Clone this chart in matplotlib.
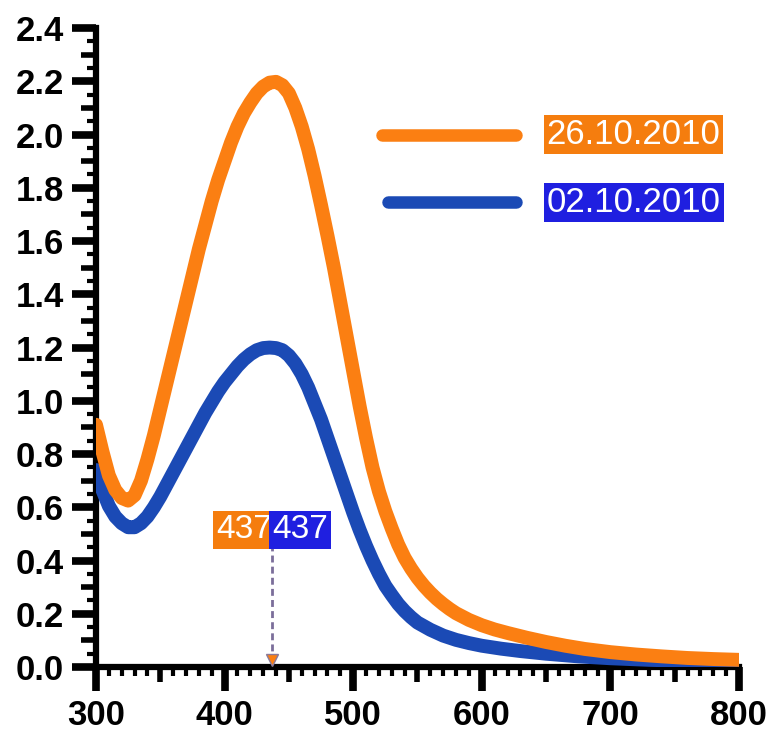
import matplotlib
matplotlib.use("Agg")
import matplotlib.pyplot as plt
from matplotlib.ticker import MultipleLocator, FormatStrFormatter, NullFormatter

plt.rcParams["font.family"] = ["Liberation Sans", "DejaVu Sans"]

# absorbance spectra (wavelength in nm)
wl_oct26 = [300, 305, 310, 315, 320, 325, 330, 335, 340, 345, 350, 355, 360, 365, 370, 375,
            380, 385, 390, 395, 400, 405, 410, 415, 420, 425, 430, 435, 440, 445, 450, 455,
            460, 465, 470, 475, 480, 485, 490, 495, 500, 505, 510, 515, 520, 525, 530, 535,
            540, 545, 550, 555, 560, 565, 570, 575, 580, 590, 600, 610, 620, 635, 650, 665,
            680, 700, 720, 740, 760, 780, 800]
abs_oct26 = [0.91, 0.81, 0.72, 0.665, 0.635, 0.625, 0.645, 0.70, 0.78, 0.87, 0.97, 1.07,
             1.17, 1.27, 1.37, 1.47, 1.57, 1.66, 1.75, 1.83, 1.90, 1.97, 2.03, 2.08, 2.12,
             2.155, 2.18, 2.195, 2.198, 2.185, 2.155, 2.10, 2.03, 1.945, 1.845, 1.735, 1.62,
             1.50, 1.37, 1.24, 1.11, 0.98, 0.86, 0.75, 0.66, 0.585, 0.52, 0.46, 0.41, 0.37,
             0.335, 0.305, 0.279, 0.256, 0.236, 0.218, 0.202, 0.177, 0.157, 0.141, 0.128, 0.11,
             0.094, 0.08, 0.068, 0.056, 0.047, 0.04, 0.034, 0.03, 0.027]

wl_oct02 = [300, 305, 310, 315, 320, 325, 330, 335, 340, 345, 350, 355, 360, 365, 370, 375,
            380, 385, 390, 395, 400, 405, 410, 415, 420, 425, 430, 435, 440, 445, 450, 455,
            460, 465, 470, 475, 480, 485, 490, 495, 500, 505, 510, 515, 520, 525, 530, 535,
            540, 545, 550, 560, 570, 580, 590, 600, 615, 630, 650, 675, 700, 730, 760, 800]
abs_oct02 = [0.74, 0.665, 0.605, 0.565, 0.54, 0.525, 0.525, 0.54, 0.565, 0.60, 0.64, 0.685,
             0.73, 0.775, 0.82, 0.865, 0.91, 0.955, 0.995, 1.035, 1.07, 1.10, 1.13, 1.155,
             1.175, 1.19, 1.198, 1.20, 1.198, 1.19, 1.17, 1.14, 1.10, 1.05, 0.99, 0.93, 0.86,
             0.79, 0.72, 0.65, 0.58, 0.515, 0.455, 0.40, 0.35, 0.305, 0.27, 0.237, 0.21, 0.187,
             0.167, 0.14, 0.118, 0.102, 0.09, 0.08, 0.069, 0.06, 0.05, 0.04, 0.033, 0.027,
             0.023, 0.02]

series_labels = ["26.10.2010", "02.10.2010"]
peak_nm = 437
peak_label_y = 0.515

orange = "#FB7F12"
blue_line = "#1B4AB5"
blue_box = "#1F1FE0"
orange_box = "#F57D0E"

fig = plt.figure(figsize=(7.71, 7.40), dpi=100)
ax = fig.add_axes([0.1245, 0.0986, 0.834, 0.8635])

ax.plot(wl_oct02, abs_oct02, color=blue_line, lw=10, solid_capstyle="round",
        solid_joinstyle="round", zorder=3)
ax.plot(wl_oct26, abs_oct26, color=orange, lw=10, solid_capstyle="round",
        solid_joinstyle="round", zorder=4)

# peak marker
ax.plot([peak_nm, peak_nm], [0.02, 0.45], color="#7B6E9A", lw=2, ls=(0, (2.5, 1.5)), zorder=5)
ax.plot([peak_nm], [0.025], marker="v", ms=8, color=orange, mec="#8A7A9A", mew=1, zorder=6)
ax.text(peak_nm, peak_label_y, str(peak_nm), ha="right", va="center", fontsize=24, color="white",
        bbox=dict(boxstyle="square,pad=0.1", fc=orange_box, ec="none"), zorder=7)
ax.text(peak_nm, peak_label_y, str(peak_nm), ha="left", va="center", fontsize=24, color="white",
        bbox=dict(boxstyle="square,pad=0.1", fc=blue_box, ec="none"), zorder=7)

# hand-made legend
for y, col, boxcol, lab, x0 in [(0.833, orange, orange_box, series_labels[0], 0.445),
                                (0.727, blue_line, blue_box, series_labels[1], 0.454)]:
    ax.plot([x0, 0.653], [y, y], color=col, lw=9, solid_capstyle="round",
            transform=ax.transAxes, clip_on=False)
    ax.text(0.701, y, lab, ha="left", va="center", fontsize=25, color="white",
            transform=ax.transAxes,
            bbox=dict(boxstyle="square,pad=0.08", fc=boxcol, ec="none"))

ax.set_xlim(300, 800)
ax.set_ylim(0, 2.4)
ax.xaxis.set_major_locator(MultipleLocator(100))
ax.xaxis.set_minor_locator(MultipleLocator(10))
ax.yaxis.set_major_locator(MultipleLocator(0.2))
ax.yaxis.set_minor_locator(MultipleLocator(0.05))
ax.yaxis.set_major_formatter(FormatStrFormatter("%.1f"))

for side in ["top", "right"]:
    ax.spines[side].set_visible(False)
for side in ["left", "bottom"]:
    ax.spines[side].set_linewidth(4.5)

ax.tick_params(which="major", direction="out", length=17, width=5.5, pad=6, labelsize=25)
ax.tick_params(which="minor", direction="out", length=6.5, width=3)
for lab in ax.get_xticklabels() + ax.get_yticklabels():
    lab.set_fontweight("bold")

# medium ticks at the half steps
secx = ax.secondary_xaxis("bottom")
secx.set_xticks(range(350, 800, 100))
secx.xaxis.set_major_formatter(NullFormatter())
secx.xaxis.set_minor_locator(MultipleLocator(1000))
secx.spines["bottom"].set_visible(False)
secx.tick_params(which="major", direction="out", length=11, width=4)

secy = ax.secondary_yaxis("left")
secy.set_yticks([0.1, 0.3, 0.5, 0.7, 0.9, 1.1, 1.3, 1.5, 1.7, 1.9, 2.1, 2.3])
secy.yaxis.set_major_formatter(NullFormatter())
secy.yaxis.set_minor_locator(MultipleLocator(10))
secy.spines["left"].set_visible(False)
secy.tick_params(which="major", direction="out", length=11, width=4)

fig.savefig("out.png", dpi=100)
plt.close(fig)
